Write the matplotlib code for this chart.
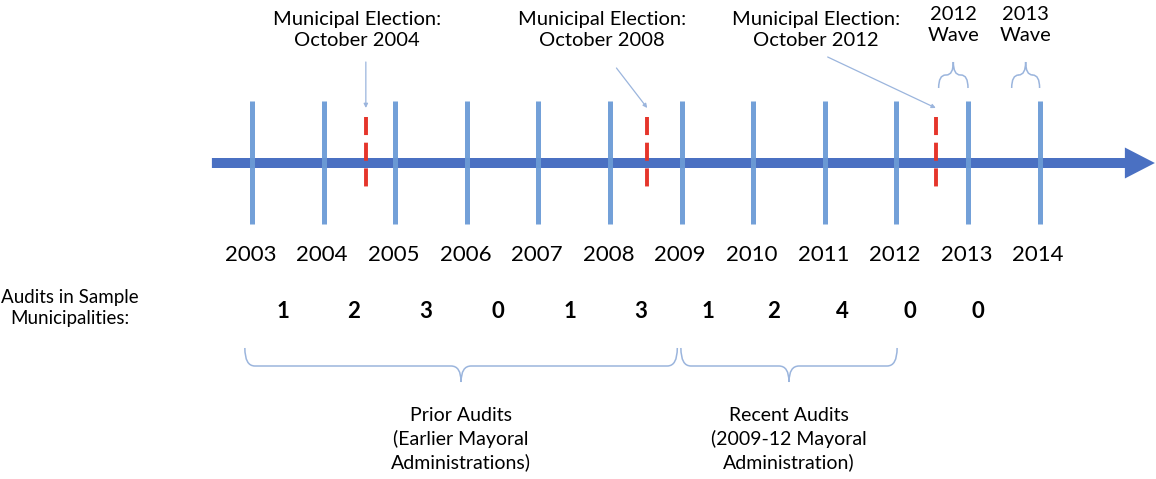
import numpy as np
import matplotlib.pyplot as plt
from matplotlib.path import Path
from matplotlib.patches import PathPatch, FancyArrow

plt.rcParams['font.family'] = ['Lato', 'DejaVu Sans']
plt.rcParams['lines.scale_dashes'] = False

# timeline data
years = np.arange(2003, 2015)
audits = [1, 2, 3, 0, 1, 3, 1, 2, 4, 0, 0]
count_shift = [0.43, 0.42, 0.43, 0.44, 0.44, 0.43, 0.37, 0.29, 0.25, 0.19, 0.14]

elections = [2004.59, 2008.52, 2012.55]
election_labels = ['Municipal Election:\nOctober 2004',
                   'Municipal Election:\nOctober 2008',
                   'Municipal Election:\nOctober 2012']
election_label_x = [2004.47, 2007.89, 2010.88]
election_arrow_from = [(2004.59, 62), (2008.09, 68), (2011.04, 57)]

waves = ['2012\nWave', '2013\nWave']
wave_spans = [(2012.59, 2013.0), (2013.61, 2014.0)]

periods = ['Prior Audits\n(Earlier Mayoral\nAdministrations)',
           'Recent Audits\n(2009-12 Mayoral\nAdministration)']
period_spans = [(2002.90, 2008.94), (2008.99, 2012.01)]

tick_c = '#6b9bd6'
axis_c = '#4a70c2'
red_c = '#e5352b'
brace_c = '#9bb5dd'

px = 71.6  # pixels per year
x0 = 2003 - 252 / px

fig = plt.figure(figsize=(11.56, 4.79), dpi=100)
ax = fig.add_axes([0, 0, 1, 1])
ax.set_xlim(x0, x0 + 1156 / px)
ax.set_ylim(479, 0)
ax.axis('off')


def brace(ax, xa, xb, y_end, y_line, y_tip, r=10):
    # curly brace between xa and xb, tip at middle
    rx = r / px
    xm = (xa + xb) / 2
    verts = [(xa, y_end), (xa, y_line), (xa + rx, y_line),
             (xm - rx, y_line),
             (xm, y_line), (xm, y_tip),
             (xm, y_line), (xm + rx, y_line),
             (xb - rx, y_line),
             (xb, y_line), (xb, y_end)]
    codes = [Path.MOVETO, Path.CURVE3, Path.CURVE3, Path.LINETO,
             Path.CURVE3, Path.CURVE3, Path.CURVE3, Path.CURVE3,
             Path.LINETO, Path.CURVE3, Path.CURVE3]
    ax.add_patch(PathPatch(Path(verts, codes), fill=False, ec=brace_c, lw=1.1))


# main arrow
ax.add_patch(FancyArrow(2002.44, 163, 2015.61 - 2002.44, 0, width=10,
                        head_width=31, head_length=30 / px,
                        length_includes_head=True, color=axis_c, lw=0))

# year ticks
ax.vlines(years, 101, 224, color=tick_c, lw=3.6, alpha=0.95)
for y in years:
    ax.text(y - 0.02, 255, str(y), ha='center', va='center', fontsize=16)

# elections
ax.vlines(elections, 117, 190, color=red_c, lw=2.8, linestyles=[(0, (13, 5.5))])
for e, lab, lx, src in zip(elections, election_labels, election_label_x, election_arrow_from):
    ax.text(lx, 30, lab, ha='center', va='center', fontsize=14.5, linespacing=1.3)
    ax.annotate('', xy=(e, 108), xytext=src,
                arrowprops=dict(arrowstyle='-|>', color=brace_c, lw=0.9,
                                mutation_scale=6, shrinkA=0, shrinkB=0))

# waves
for lab, (a, b) in zip(waves, wave_spans):
    ax.text((a + b) / 2, 25, lab, ha='center', va='center', fontsize=14.5, linespacing=1.3)
    brace(ax, a, b, 88, 75, 62, r=7)

# audit counts
ax.text(x0 + 70 / px, 308, 'Audits in Sample\nMunicipalities:', ha='center', va='center',
        fontsize=13.5, linespacing=1.35)
for y, n, s in zip(years[:-1], audits, count_shift):
    ax.text(y + s, 311, str(n), ha='center', va='center', fontsize=16, fontweight='bold')

# periods
for lab, (a, b) in zip(periods, period_spans):
    brace(ax, a, b, 348, 366, 382, r=10)
    ax.text((a + b) / 2, 439, lab, ha='center', va='center', fontsize=14, linespacing=1.4)

fig.savefig('out.png', dpi=100)
